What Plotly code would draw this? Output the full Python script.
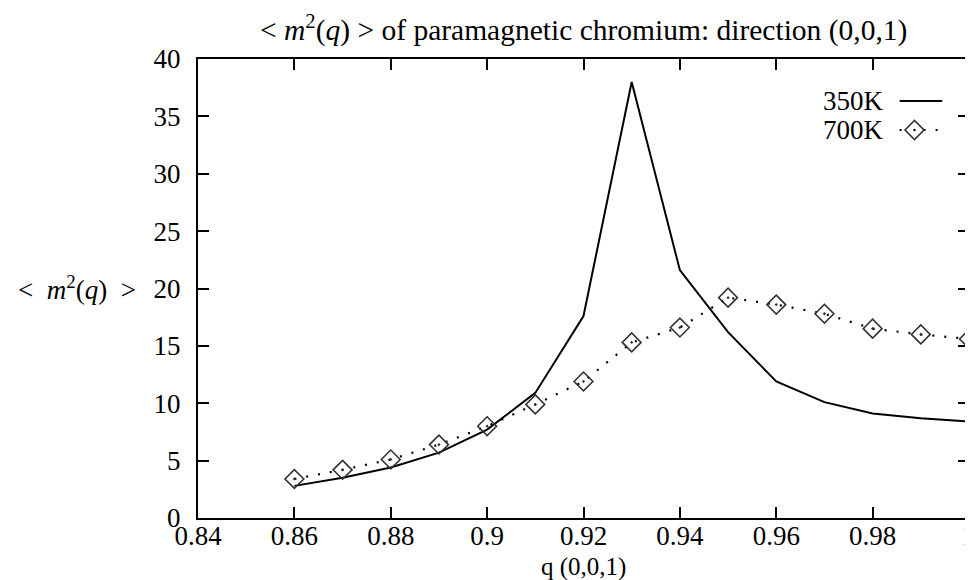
import plotly.graph_objects as go

# ---- data ----
q = [0.86, 0.87, 0.88, 0.89, 0.90, 0.91, 0.92, 0.93, 0.94, 0.95, 0.96, 0.97, 0.98, 0.99, 1.00]
m2_350K = [2.8, 3.5, 4.4, 5.7, 7.7, 10.9, 17.6, 38.0, 21.6, 16.2, 11.9, 10.1, 9.1, 8.7, 8.4]
m2_700K = [3.4, 4.2, 5.1, 6.4, 8.0, 9.9, 11.9, 15.3, 16.6, 19.2, 18.6, 17.8, 16.5, 16.0, 15.6]
series_names = ["350K", "700K"]
x_tickvals = [0.84, 0.86, 0.88, 0.90, 0.92, 0.94, 0.96, 0.98, 1.00]
x_ticktext = ["0.84", "0.86", "0.88", "0.9", "0.92", "0.94", "0.96", "0.98", "1"]
y_tickvals = [0, 5, 10, 15, 20, 25, 30, 35, 40]
title_text = "&lt;&nbsp;<i>m</i><sup>2</sup>(<i>q</i>)&nbsp;&gt; of paramagnetic chromium: direction (0,0,1)"
ylabel_text = "&lt;&nbsp;&nbsp;<i>m</i><sup>2</sup>(<i>q</i>)&nbsp;&nbsp;&gt;"
xlabel_text = "q (0,0,1)"

FONT = "Liberation Serif"
FS = 27
FS_T = 29.5
W, H = 973, 580
L, R, T, B = 190, 5, 51, 70
PW, PH = W - L - R, H - T - B

def px(x):
    return (x - L) / PW

def py(y):
    return (H - B - y) / PH

fig = go.Figure()
fig.add_trace(go.Scatter(x=q, y=m2_350K, mode="lines", name=series_names[0],
                         line=dict(color="black", width=2), showlegend=False,
                         cliponaxis=False))
fig.add_trace(go.Scatter(x=q, y=m2_700K, mode="lines+markers", name=series_names[1],
                         line=dict(color="black", width=2.2, dash="2px,10px"),
                         marker=dict(symbol="diamond-open-dot", size=14.5, color="#333333",
                                     line=dict(width=1.6, color="#333333")),
                         showlegend=False, cliponaxis=False))

axis_common = dict(showline=True, linecolor="black", linewidth=2, mirror="allticks",
                   ticks="inside", ticklen=11, tickwidth=2, tickcolor="black",
                   showgrid=False, zeroline=False,
                   tickfont=dict(family=FONT, size=FS, color="black"))
fig.update_xaxes(range=[0.84, 1.0], tickvals=x_tickvals, ticktext=x_ticktext,
                 ticklabelstandoff=-7, **axis_common)
fig.update_yaxes(range=[0, 40], tickvals=y_tickvals, ticklabelstandoff=10, **axis_common)

annotations = [
    dict(text=title_text, x=0.5, y=py(20), xref="paper", yref="paper",
         xanchor="center", yanchor="middle", showarrow=False,
         font=dict(family=FONT, size=FS_T, color="black")),
    dict(text=ylabel_text, x=px(6), y=py(280), xref="paper", yref="paper",
         xanchor="left", yanchor="middle", showarrow=False,
         font=dict(family=FONT, size=FS, color="black")),
    dict(text=xlabel_text, x=0.5, y=py(559), xref="paper", yref="paper",
         xanchor="center", yanchor="middle", showarrow=False,
         font=dict(family=FONT, size=25, color="black")),
    dict(text=series_names[0], x=px(884), y=py(93), xref="paper", yref="paper",
         xanchor="right", yanchor="middle", showarrow=False,
         font=dict(family=FONT, size=FS, color="black")),
    dict(text=series_names[1], x=px(884), y=py(122), xref="paper", yref="paper",
         xanchor="right", yanchor="middle", showarrow=False,
         font=dict(family=FONT, size=FS, color="black")),
]

shapes = [
    dict(type="line", xref="paper", yref="paper", x0=px(898), x1=px(941),
         y0=py(93), y1=py(93), line=dict(color="black", width=2)),
    dict(type="line", xref="paper", yref="paper", x0=px(898), x1=px(941),
         y0=py(122), y1=py(122), line=dict(color="black", width=2.2, dash="2px,10px")),
    dict(type="path", xref="paper", yref="paper", xsizemode="pixel", ysizemode="pixel",
         xanchor=px(913), yanchor=py(122),
         path="M -9.5 0 L 0 9.5 L 9.5 0 L 0 -9.5 Z", fillcolor="white",
         line=dict(color="#333333", width=1.6)),
    dict(type="circle", xref="paper", yref="paper", xsizemode="pixel", ysizemode="pixel",
         xanchor=px(913), yanchor=py(122), x0=-1.2, x1=1.2, y0=-1.2, y1=1.2,
         fillcolor="black", line=dict(width=0)),
]

fig.update_layout(width=W, height=H, autosize=False,
                  margin=dict(l=L, r=R, t=T, b=B),
                  paper_bgcolor="white", plot_bgcolor="white",
                  annotations=annotations, shapes=shapes, showlegend=False,
                  font=dict(family=FONT, size=FS, color="black"))

fig.write_html("out.html")
